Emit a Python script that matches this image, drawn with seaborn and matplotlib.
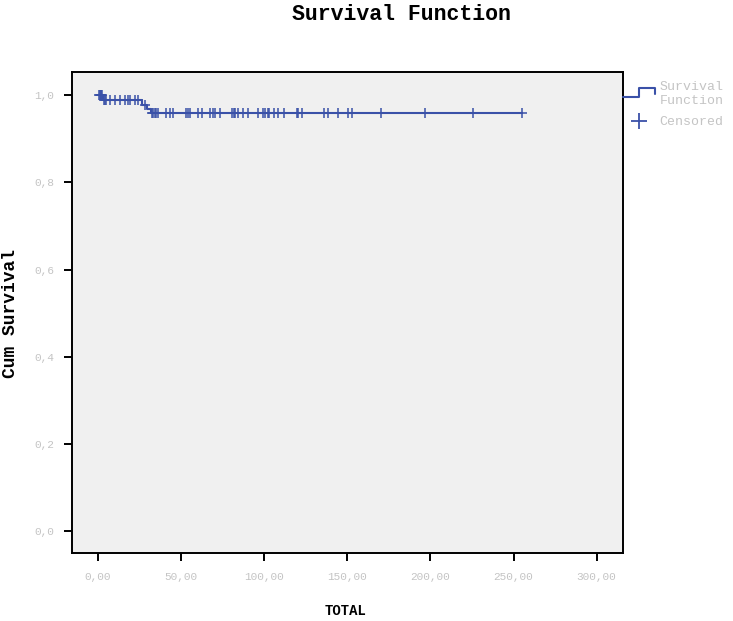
import numpy as np
import pandas as pd
import seaborn as sns
import matplotlib.pyplot as plt
from matplotlib.lines import Line2D
from matplotlib.legend_handler import HandlerBase

# Kaplan-Meier step function (event times and survival after each step)
event_times = [0.0, 3.0, 26.5, 29.5, 32.0]
survival = [1.0, 0.989, 0.978, 0.968, 0.958]

# censored observations
censor_times = [0.5, 1.0, 1.5, 2.0, 2.5, 3.5, 4.0, 5.0, 7.0, 10.0, 13.0, 16.0,
                18.0, 19.5, 22.0, 24.0, 28.0, 32.5, 33.0, 34.0, 35.0, 36.0,
                41.0, 43.5, 45.0, 53.0, 54.0, 55.5, 60.0, 62.5, 67.5, 69.0,
                70.5, 73.5, 80.5, 81.5, 82.5, 84.0, 87.0, 90.0, 96.5, 99.0,
                100.5, 102.0, 103.0, 106.0, 108.5, 112.0, 119.5, 120.5, 122.5,
                136.0, 138.5, 144.5, 150.5, 153.0, 170.0, 196.5, 225.5, 255.0]

x_ticks = [0, 50, 100, 150, 200, 250, 300]
y_ticks = [0.0, 0.2, 0.4, 0.6, 0.8, 1.0]

blue = "#3a51a8"
grey = "#c4c4c4"
mono = "Liberation Mono"

sns.set_theme(style="ticks")
plt.rcParams["font.family"] = [mono, "DejaVu Sans"]

step_df = pd.DataFrame({"t": event_times + [max(censor_times)],
                        "s": survival + [survival[-1]]})
idx = np.searchsorted(event_times, censor_times, side="right") - 1
cens_df = pd.DataFrame({"t": censor_times, "s": np.array(survival)[idx]})

fig = plt.figure(figsize=(7.33, 6.21), dpi=100)
ax = fig.add_axes([0.0982, 0.1095, 0.752, 0.7746])
ax.set_facecolor("#f0f0f0")

sns.lineplot(data=step_df, x="t", y="s", ax=ax, color=blue, lw=1.5,
             drawstyle="steps-post", estimator=None, sort=False)
sns.scatterplot(data=cens_df, x="t", y="s", ax=ax, color=blue, marker="+",
                s=55, linewidth=1.1, zorder=3)

ax.set_xlim(-15.7, 316)
ax.set_ylim(-0.05, 1.053)
ax.set_xticks(x_ticks)
ax.set_xticklabels([f"{v:.2f}".replace(".", ",") for v in x_ticks])
ax.set_yticks(y_ticks)
ax.set_yticklabels([f"{v:.1f}".replace(".", ",") for v in y_ticks])
ax.tick_params(axis="both", length=6, width=1.4, color="black",
               labelcolor=grey, labelsize=8)
ax.tick_params(axis="x", pad=8)
ax.tick_params(axis="y", pad=7)
for sp in ax.spines.values():
    sp.set_visible(True)
    sp.set_color("black")
    sp.set_linewidth(1.4)

ax.set_xlabel("TOTAL", fontsize=10, fontweight="bold", color="black")
ax.set_ylabel("Cum Survival", fontsize=13, fontweight="bold", color="black")
ax.xaxis.set_label_coords((345 - 72) / 551, -(604 - 553) / 481)
ax.yaxis.set_label_coords(-(72 - 19) / 551, (553 - 314) / 481)
fig.text(401 / 733, 1 - 15 / 621, "Survival Function", ha="center", va="center",
         fontsize=15.5, fontweight="bold", color="black")


class StepHandler(HandlerBase):
    def create_artists(self, legend, orig_handle, xdescent, ydescent,
                       width, height, fontsize, trans):
        x0, w, h = -xdescent, width, height
        xs = [x0, x0 + 0.5 * w, x0 + 0.5 * w, x0 + w, x0 + w]
        ys = [0.2 * h, 0.2 * h, 1.1 * h, 1.1 * h, 0.5 * h]
        ln = Line2D(xs, ys, color=blue, lw=1.5)
        ln.set_transform(trans)
        return [ln]


step_handle = Line2D([], [], color=blue)
cens_handle = Line2D([], [], color=blue, marker="+", ls="none",
                     markersize=12, markeredgewidth=1.3)
leg = ax.legend([step_handle, cens_handle], ["Survival\nFunction", "Censored"],
                handler_map={step_handle: StepHandler()},
                loc="upper left", bbox_to_anchor=(1.0, 0.981), frameon=False,
                borderaxespad=0, borderpad=0, handlelength=2.4,
                handletextpad=0.35, labelspacing=0.7, fontsize=9.5)
for txt in leg.get_texts():
    txt.set_color(grey)

fig.savefig("out.png", dpi=100)
